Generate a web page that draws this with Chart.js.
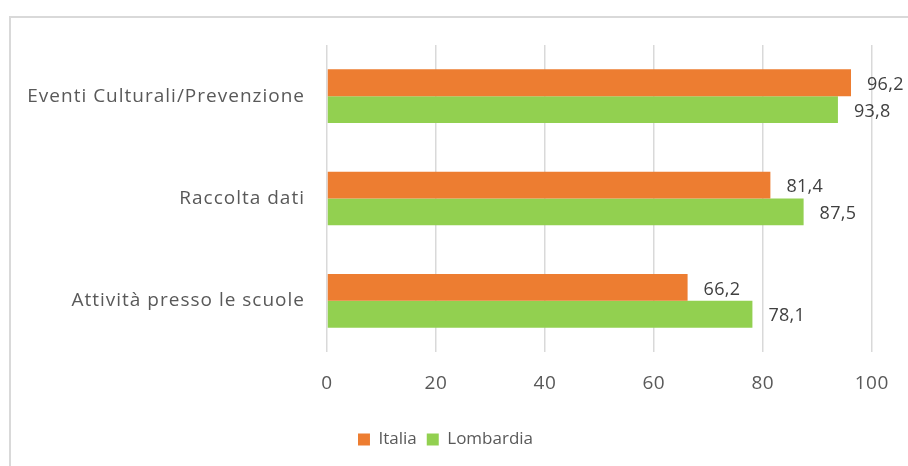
<!DOCTYPE html>
<html>
<head>
<meta charset="utf-8">
<script src="https://cdn.jsdelivr.net/npm/chart.js@4/dist/chart.umd.min.js"></script>
<style>
  html, body { margin: 0; padding: 0; background: #ffffff; width: 908px; height: 466px; overflow: hidden; }
  #frame { position: absolute; left: 9px; top: 16px; width: 920px; height: 470px; border: 2px solid #d9d9d9; box-sizing: border-box; }
  #wrap { position: absolute; left: 9px; top: 16px; width: 899px; height: 450px; }
</style>
</head>
<body>
<div id="frame"></div>
<div id="wrap"><canvas id="c"></canvas></div>
<script>
const categories = ["Eventi Culturali/Prevenzione", "Raccolta dati", "Attività presso le scuole"];
const seriesNames = ["Italia", "Lombardia"];
const italia = [96.2, 81.4, 66.2];
const lombardia = [93.8, 87.5, 78.1];
const xTicks = [0, 20, 40, 60, 80, 100];

const FONT = "'Open Sans', sans-serif";

// draw scale text with a little letter spacing (to mimic the wider reference face)
const spacing = {
  id: 'spacing',
  afterLayout(chart) {
    const sp = { x: '0.5px', y: '1px' };
    Object.keys(sp).forEach(id => {
      const s = chart.scales[id];
      if (!s || s._spWrapped) return;
      const orig = s.drawLabels;
      s.drawLabels = function (area) {
        const ctx = this.ctx;
        ctx.save();
        ctx.letterSpacing = sp[id];
        orig.call(this, area);
        ctx.restore();
      };
      s._spWrapped = true;
    });
  }
};

const valueLabels = {
  id: 'valueLabels',
  afterDatasetsDraw(chart) {
    const ctx = chart.ctx;
    ctx.save();
    ctx.font = "18px " + FONT;
    ctx.letterSpacing = '0.3px';
    ctx.fillStyle = "#404040";
    ctx.textAlign = "left";
    ctx.textBaseline = "middle";
    chart.data.datasets.forEach((ds, i) => {
      const meta = chart.getDatasetMeta(i);
      meta.data.forEach((bar, j) => {
        const txt = ds.data[j].toFixed(1).replace('.', ',');
        ctx.fillText(txt, bar.x + 16, bar.y + 2);
      });
    });
    ctx.restore();
  }
};

new Chart(document.getElementById('c'), {
  type: 'bar',
  data: {
    labels: categories,
    datasets: [
      { label: seriesNames[0], data: italia, backgroundColor: '#ED7D31', borderWidth: 0 },
      { label: seriesNames[1], data: lombardia, backgroundColor: '#92D050', borderWidth: 0 }
    ]
  },
  options: {
    indexAxis: 'y',
    responsive: true,
    maintainAspectRatio: false,
    animation: false,
    layout: { padding: { left: 0, right: 26, top: 29, bottom: 8 } },
    datasets: { bar: { categoryPercentage: 0.525, barPercentage: 1.0 } },
    plugins: {
      legend: {
        position: 'bottom',
        labels: {
          font: { family: FONT, size: 17 },
          color: '#595959',
          boxWidth: 12,
          boxHeight: 12,
          padding: 10
        }
      },
      tooltip: { enabled: false }
    },
    scales: {
      x: {
        min: 0,
        max: 100,
        afterBuildTicks(scale) { scale.ticks = xTicks.map(v => ({ value: v })); },
        afterFit(scale) { scale.height = 69; },
        grid: { color: '#d9d9d9', lineWidth: 1.5, drawTicks: false },
        border: { display: false },
        ticks: { font: { family: FONT, size: 19 }, color: '#595959', padding: 20 }
      },
      y: {
        afterFit(scale) { scale.width = 318; scale.paddingTop = 0; scale.paddingBottom = 0; },
        grid: { display: false, drawTicks: false },
        border: { display: false },
        ticks: { font: { family: FONT, size: 19 }, color: '#595959', padding: 22 }
      }
    }
  },
  plugins: [spacing, valueLabels]
});
</script>
</body>
</html>
